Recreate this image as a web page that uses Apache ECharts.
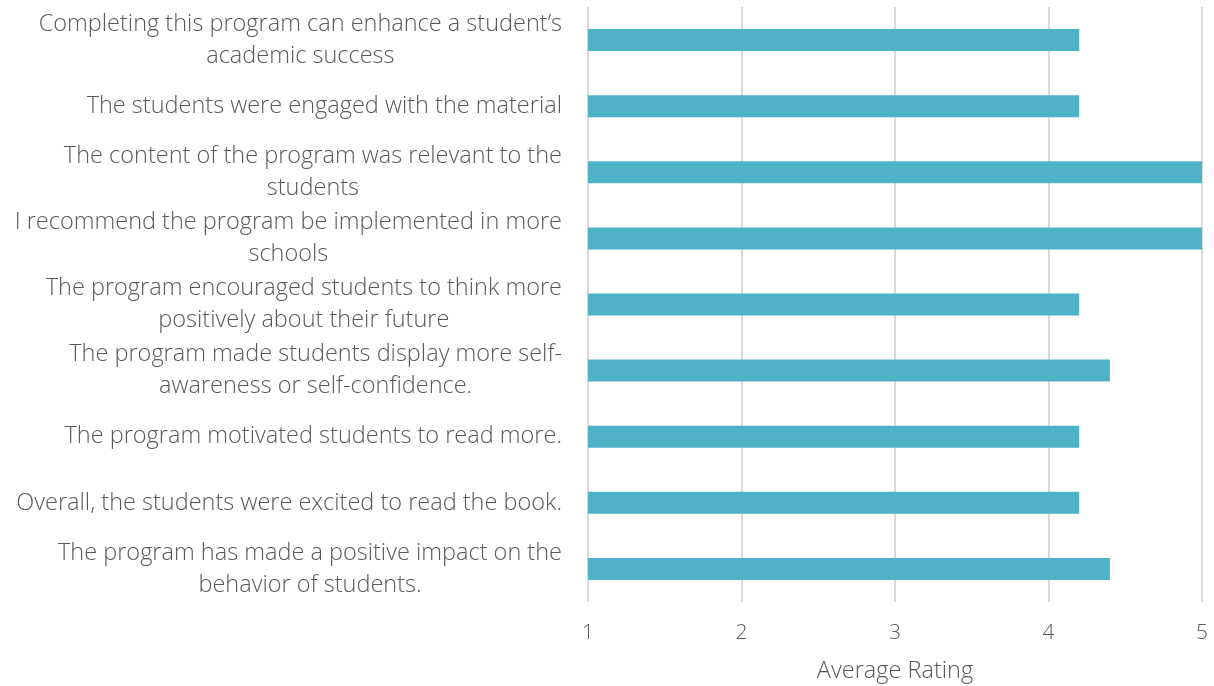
<!DOCTYPE html>
<html>
<head>
<meta charset="utf-8">
<script src="https://cdn.jsdelivr.net/npm/echarts@6/dist/echarts.min.js"></script>
<style>
  html, body { margin: 0; padding: 0; background: #fff; }
  #chart { width: 1214px; height: 686px; }
</style>
</head>
<body>
<div id="chart"></div>
<script>
const categories = [
  'Completing this program can enhance a student\u2019s\nacademic success',
  'The students were engaged with the material',
  'The content of the program was relevant to the\nstudents',
  'I recommend the program be implemented in more\nschools',
  'The program encouraged students to think more\npositively about their future',
  'The program made students display more self-\nawareness or self-confidence.',
  'The program motivated students to read more.',
  'Overall, the students were excited to read the book.',
  'The program has made a positive impact on the\nbehavior of students.'
]
const ratings = [4.2, 4.2, 5, 5, 4.2, 4.4, 4.2, 4.2, 4.4]
const ratingTicks = [1, 2, 3, 4, 5]

const textColor = '#595959'
const fontFamily = '"Open Sans", "Noto Sans", sans-serif'

const chart = echarts.init(document.getElementById('chart'))

chart.setOption({
  animation: false,
  grid: {
    left: 588,
    right: 12,
    top: 7,
    bottom: 84,
    outerBoundsMode: 'none'
  },
  xAxis: {
    type: 'value',
    min: ratingTicks[0],
    max: ratingTicks[ratingTicks.length - 1],
    interval: 1,
    name: 'Average Rating',
    nameLocation: 'middle',
    nameGap: 57,
    nameTextStyle: {
      color: textColor,
      fontSize: 23.5,
      fontFamily: fontFamily,
      fontWeight: 300
    },
    axisLine: { show: false },
    axisTick: { show: false },
    axisLabel: {
      color: textColor,
      fontSize: 21,
      fontFamily: fontFamily,
      fontWeight: 300,
      margin: 21
    },
    splitLine: {
      lineStyle: { color: '#d9d9d9', width: 2 }
    }
  },
  yAxis: {
    type: 'category',
    data: categories,
    inverse: true,
    axisLine: { show: false },
    axisTick: { show: false },
    axisLabel: {
      margin: 26,
      formatter: function (v) {
        return v.split('\n').map(function (s) { return '{c|' + s + '}' }).join('\n')
      },
      rich: {
        c: {
          align: 'center',
          color: textColor,
          fontSize: 23.5,
          fontFamily: fontFamily,
          fontWeight: 300,
          lineHeight: 32
        }
      }
    }
  },
  series: [{
    type: 'bar',
    data: ratings,
    barWidth: 22,
    itemStyle: {
      color: '#4FB3C8'
    }
  }]
})
</script>
</body>
</html>
